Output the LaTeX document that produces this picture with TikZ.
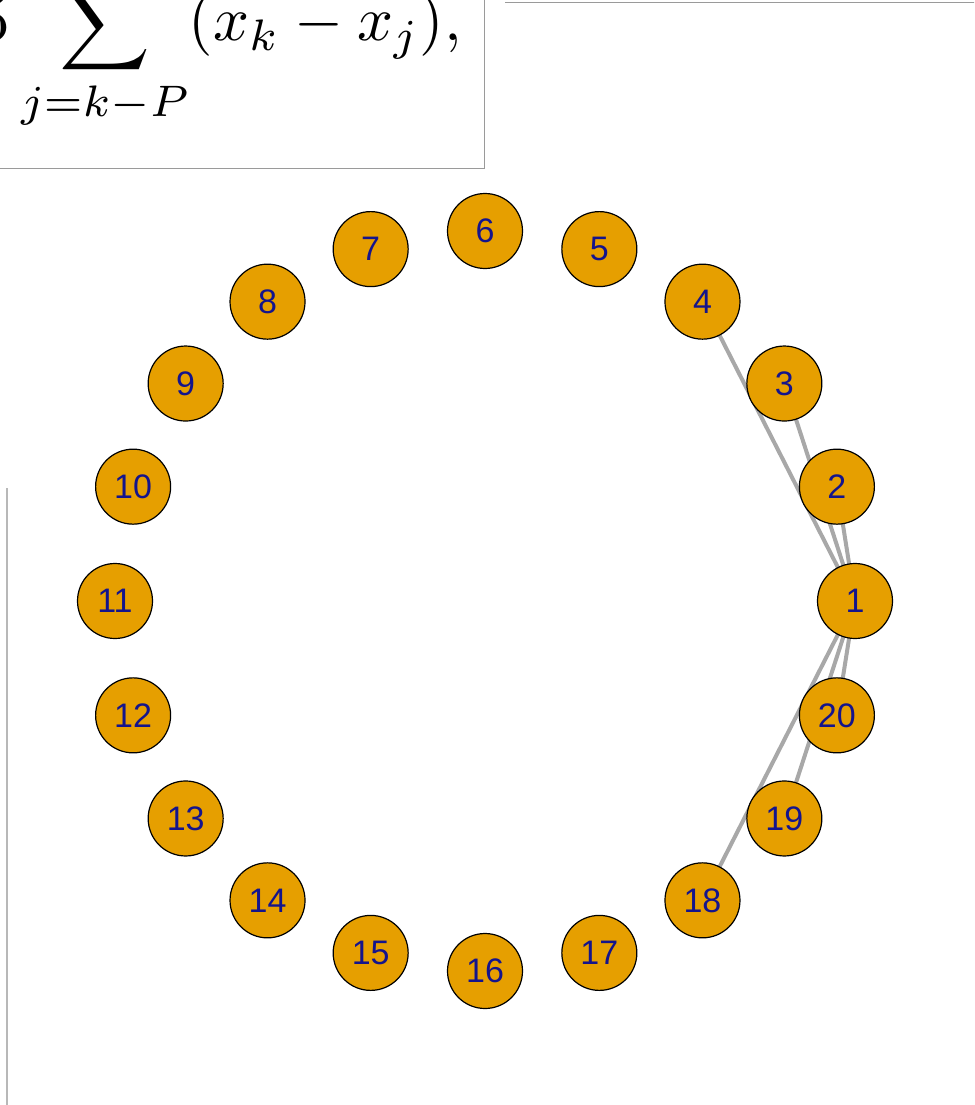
\documentclass[tikz,border=0pt]{standalone}
\usepackage{fontspec}
\usepackage{xcolor}
\usepackage{tikz}
\usetikzlibrary{backgrounds}
\newfontfamily\ringfont{Liberation Sans}
\definecolor{Amber}{HTML}{E69F00}
\definecolor{Navy}{HTML}{14148C}
\definecolor{Link}{HTML}{A8A8A8}
\definecolor{Frame}{HTML}{9A9A9A}

\begin{document}
\begin{tikzpicture}[x=1pt, y=-1pt,
    vertex/.style={circle, draw=black, line width=1.2pt, fill=Amber, minimum size=75pt, inner sep=0pt,
      text=Navy, font=\ringfont\fontsize{34}{34}\selectfont},
    link/.style={draw=Link, line width=4pt},
    rule/.style={draw=Frame, line width=1pt}]
  \useasboundingbox (0,0) rectangle (974,1105);
  \clip (0,0) rectangle (974,1105);

  % cropped formula panel
  \node[anchor=base east, inner sep=0pt, scale=6.3] (sum) at (463,41)
    {$\displaystyle 5\sum_{j=k-P}(x_k-x_j),$};
  \draw[rule] (-5,168) -- (484,168) -- (484,-5);
  \draw[rule] (505,3) -- (980,3);
  \draw[draw=Frame!70, line width=2pt] (7,488) -- (7,1110);

  % ring of 20 vertices
  \begin{scope}[shift={(485,601)}]
    \foreach \i in {1,...,20}
      \node[vertex] (v\i) at ({-(\i-1)*18}:370) {\i};
  \end{scope}

  \begin{scope}[on background layer]
    \foreach \j in {2,3,4,18,19,20}
      \draw[link] (v1.center) -- (v\j.center);
  \end{scope}
\end{tikzpicture}
\end{document}
